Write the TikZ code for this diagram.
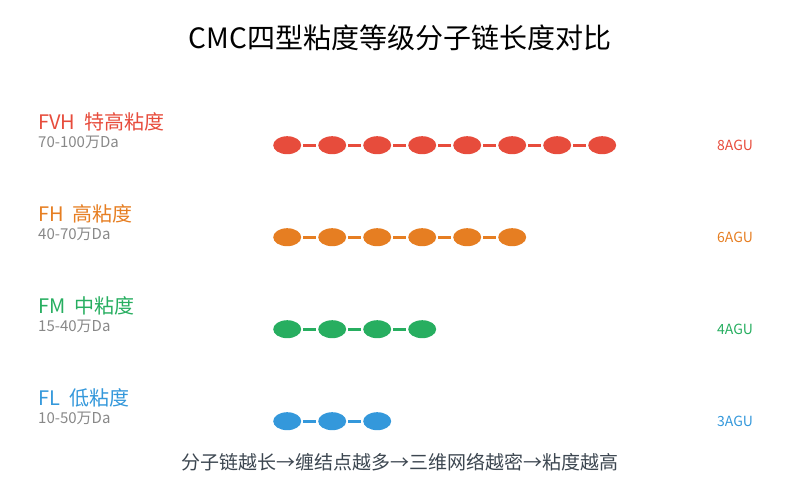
\documentclass[tikz,border=0pt]{standalone}
\usepackage{fontspec}
\setmainfont{Noto Sans CJK SC}
\usepackage{tikz}
\usetikzlibrary{shapes.geometric}
\definecolor{fvh}{HTML}{E74C3C}
\definecolor{fh}{HTML}{E67E22}
\definecolor{fm}{HTML}{27AE60}
\definecolor{fl}{HTML}{3498DB}
\definecolor{mwgray}{HTML}{888888}
\definecolor{notegray}{HTML}{3C4650}
\tikzstyle{unit}=[ellipse,minimum width=28pt,minimum height=18pt,inner sep=0pt]
\tikzstyle{vhunit}=[unit,fill=fvh]
\tikzstyle{hunit}=[unit,fill=fh]
\tikzstyle{munit}=[unit,fill=fm]
\tikzstyle{lunit}=[unit,fill=fl]
\tikzstyle{bond}=[line width=3pt,shorten >=2pt,shorten <=2pt]
\tikzstyle{grade}=[anchor=west,inner sep=0pt,font=\fontsize{20}{20}\selectfont]
\tikzstyle{mwt}=[anchor=west,inner sep=0pt,text=mwgray,font=\fontsize{15}{15}\selectfont]
\tikzstyle{agu}=[anchor=west,inner sep=0pt,font=\fontsize{14}{14}\selectfont]
\begin{document}
\begin{tikzpicture}[x=1pt,y=-1pt,ampersand replacement=\&]
    \useasboundingbox (0,0) rectangle (800,500);
    % Title
    \node (title) at (400,38) {\fontsize{28}{28}\selectfont CMC四型粘度等级分子链长度对比};
    % The chains of units are placed using a matrix:
    \matrix (chains) [row sep=74pt,column sep=17pt,inner sep=0pt,anchor=north west] at (273,136) {
      % First line: FVH
      \node (vh-1) [vhunit] {}; \& \node (vh-2) [vhunit] {}; \&
      \node (vh-3) [vhunit] {}; \& \node (vh-4) [vhunit] {}; \&
      \node (vh-5) [vhunit] {}; \& \node (vh-6) [vhunit] {}; \&
      \node (vh-7) [vhunit] {}; \& \node (vh-8) [vhunit] {};
      \\
      % Second line: FH
      \node (h-1) [hunit] {}; \& \node (h-2) [hunit] {}; \&
      \node (h-3) [hunit] {}; \& \node (h-4) [hunit] {}; \&
      \node (h-5) [hunit] {}; \& \node (h-6) [hunit] {}; \& \& 
      \\
      % Third line: FM
      \node (m-1) [munit] {}; \& \node (m-2) [munit] {}; \&
      \node (m-3) [munit] {}; \& \node (m-4) [munit] {}; \& \& \& \& 
      \\
      % Fourth line: FL
      \node (l-1) [lunit] {}; \& \node (l-2) [lunit] {}; \&
      \node (l-3) [lunit] {}; \& \& \& \& \& 
      \\
    };
    % Grade labels and molecular weights
    \node (vh-name) [grade,text=fvh] at (38,122) {FVH\ \ 特高粘度};
    \node (vh-mw)   [mwt] at (38,142) {70-100万Da};
    \node (h-name)  [grade,text=fh] at (38,214) {FH\ \ 高粘度};
    \node (h-mw)    [mwt] at (38,234) {40-70万Da};
    \node (m-name)  [grade,text=fm] at (38,306) {FM\ \ 中粘度};
    \node (m-mw)    [mwt] at (38,326) {15-40万Da};
    \node (l-name)  [grade,text=fl] at (38,398) {FL\ \ 低粘度};
    \node (l-mw)    [mwt] at (38,418) {10-50万Da};
    % Unit counts
    \node (vh-agu) [agu,text=fvh] at (717,145) {8AGU};
    \node (h-agu)  [agu,text=fh]  at (717,237) {6AGU};
    \node (m-agu)  [agu,text=fm]  at (717,329) {4AGU};
    \node (l-agu)  [agu,text=fl]  at (717,421) {3AGU};
    % Bottom note
    \node (note) [text=notegray] at (400,462) {\fontsize{19}{19}\selectfont 分子链越长→缠结点越多→三维网络越密→粘度越高};
    % The units are now connected through bonds:
    \path[bond,fvh]
    (vh-1) edge (vh-2)
    (vh-2) edge (vh-3)
    (vh-3) edge (vh-4)
    (vh-4) edge (vh-5)
    (vh-5) edge (vh-6)
    (vh-6) edge (vh-7)
    (vh-7) edge (vh-8);
    \path[bond,fh]
    (h-1) edge (h-2)
    (h-2) edge (h-3)
    (h-3) edge (h-4)
    (h-4) edge (h-5)
    (h-5) edge (h-6);
    \path[bond,fm]
    (m-1) edge (m-2)
    (m-2) edge (m-3)
    (m-3) edge (m-4);
    \path[bond,fl]
    (l-1) edge (l-2)
    (l-2) edge (l-3);
  \end{tikzpicture}
\end{document}
